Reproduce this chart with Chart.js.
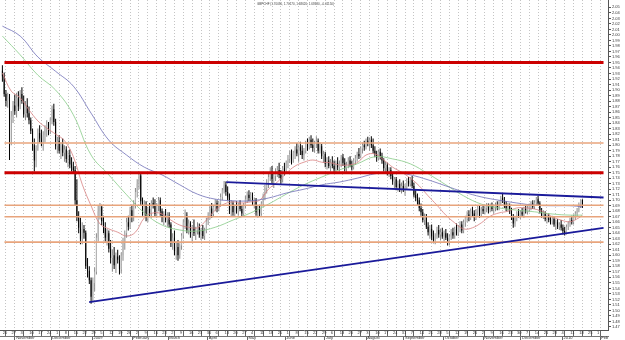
<!DOCTYPE html>
<html><head><meta charset="utf-8">
<script src="https://cdn.jsdelivr.net/npm/chart.js@4.4.1/dist/chart.umd.min.js"></script>
<style>
html,body{margin:0;padding:0;background:#fff;}
#wrap{position:relative;width:625px;height:340px;}
#title{position:absolute;left:257px;top:2px;font:3px 'Liberation Sans',Arial,sans-serif;color:#444;white-space:nowrap;}
</style></head><body>
<div id="wrap"><canvas id="c" width="625" height="340"></canvas><div id="title">GBPCHF (1.70030, 1.70170, 1.68620, 1.68630, -0.01150)</div></div>
<script>
// Weekly tick labels (Mondays, Oct 20 2008 .. Feb 1 2010)
const weekLabels = ['20','27','3','10','17','24','1','8','15','22','29','5','12','19','26','2','9','16','23','2','9','16','23','30','6','13','20','27','4','11','18','25','1','8','15','22','29','6','13','20','27','3','10','17','24','31','7','14','21','28','5','12','19','26','2','9','16','23','30','7','14','21','28','4','11','18','25','1'];
const monthNames = ['November','December','2009','February','March','April','May','June','July','August','September','October','November','December','2010','Feb'];
const monthStartDay = [10,30,53,75,95,117,139,160,182,205,226,248,270,291,314,335];
const yTicks = [1.47,1.48,1.49,1.50,1.51,1.52,1.53,1.54,1.55,1.56,1.57,1.58,1.59,1.60,1.61,1.62,1.63,1.64,1.65,1.66,1.67,1.68,1.69,1.70,1.71,1.72,1.73,1.74,1.75,1.76,1.77,1.78,1.79,1.80,1.81,1.82,1.83,1.84,1.85,1.86,1.87,1.88,1.89,1.90,1.91,1.92,1.93,1.94,1.95,1.96,1.97,1.98,1.99,2.00,2.01,2.02,2.03,2.04,2.05];

// Daily OHLC (trading days from Mon Oct 20 2008)
const open = [
1.935,1.925,1.893,1.880,1.888, 1.846,1.852,1.872,1.862,1.885, 1.870,1.893,1.880,1.856,1.872, 1.858,1.845,1.826,1.800,1.772,
1.795,1.822,1.812,1.804,1.818, 1.830,1.838,1.825,1.845,1.865, 1.842,1.798,1.808,1.790,1.800, 1.786,1.792,1.775,1.782,1.765,
1.760,1.755,1.700,1.668,1.650, 1.630,1.648,1.641,1.580,1.572, 1.555,1.525,1.550,1.570,1.632, 1.680,1.688,1.662,1.650,1.632,
1.640,1.612,1.595,1.600,1.582, 1.598,1.592,1.575,1.600,1.625, 1.640,1.660,1.652,1.682,1.670, 1.695,1.715,1.730,1.745,1.698,
1.680,1.692,1.668,1.684,1.676, 1.695,1.690,1.675,1.690,1.700, 1.680,1.668,1.675,1.664,1.672, 1.656,1.622,1.632,1.608,1.615,
1.600,1.618,1.636,1.660,1.672, 1.645,1.658,1.640,1.650,1.640, 1.645,1.652,1.638,1.646,1.635, 1.645,1.662,1.672,1.685,1.675,
1.688,1.695,1.684,1.694,1.706, 1.718,1.728,1.715,1.705,1.682, 1.694,1.678,1.686,1.680,1.690, 1.684,1.676,1.690,1.702,1.710,
1.704,1.710,1.695,1.700,1.678, 1.684,1.676,1.694,1.708,1.722, 1.730,1.742,1.752,1.738,1.744, 1.750,1.755,1.746,1.738,1.758,
1.752,1.768,1.775,1.784,1.772, 1.786,1.792,1.785,1.796,1.790, 1.782,1.790,1.802,1.796,1.810, 1.800,1.795,1.804,1.808,1.790,
1.798,1.780,1.784,1.766,1.772, 1.762,1.768,1.762,1.756,1.768, 1.760,1.766,1.778,1.768,1.758, 1.764,1.772,1.764,1.760,1.772,
1.776,1.784,1.780,1.794,1.800, 1.796,1.808,1.804,1.810,1.800, 1.790,1.784,1.776,1.788,1.780, 1.772,1.758,1.764,1.750,1.755,
1.744,1.734,1.738,1.724,1.730, 1.720,1.726,1.718,1.724,1.735, 1.730,1.738,1.726,1.710,1.704, 1.700,1.686,1.678,1.664,1.670,
1.652,1.642,1.648,1.634,1.628, 1.636,1.646,1.638,1.642,1.634, 1.640,1.632,1.625,1.634,1.642, 1.636,1.648,1.640,1.652,1.656,
1.645,1.660,1.668,1.674,1.668, 1.680,1.676,1.668,1.680,1.686, 1.674,1.684,1.680,1.686,1.690, 1.682,1.690,1.684,1.688,1.692,
1.686,1.696,1.704,1.700,1.692, 1.685,1.690,1.680,1.670,1.658, 1.668,1.676,1.672,1.678,1.674, 1.684,1.680,1.686,1.690,1.694,
1.688,1.696,1.702,1.694,1.680, 1.672,1.676,1.666,1.670,1.664, 1.662,1.666,1.656,1.660,1.652, 1.656,1.650,1.644,1.640,1.652,
1.658,1.664,1.660,1.670,1.676, 1.682,1.692,1.7003];
const high = [
1.945,1.932,1.900,1.895,1.893, 1.862,1.880,1.892,1.895,1.898, 1.900,1.905,1.890,1.880,1.885, 1.870,1.850,1.830,1.812,1.800,
1.830,1.836,1.828,1.825,1.836, 1.845,1.842,1.850,1.872,1.875, 1.848,1.815,1.818,1.805,1.812, 1.800,1.798,1.790,1.792,1.778,
1.770,1.762,1.738,1.680,1.668, 1.660,1.655,1.645,1.595,1.580, 1.560,1.560,1.578,1.640,1.690, 1.695,1.692,1.672,1.660,1.648,
1.645,1.628,1.610,1.615,1.605, 1.610,1.600,1.605,1.632,1.645, 1.668,1.672,1.688,1.692,1.700, 1.722,1.738,1.752,1.750,1.705,
1.700,1.698,1.688,1.695,1.700, 1.705,1.702,1.695,1.706,1.705, 1.685,1.680,1.684,1.678,1.678, 1.660,1.640,1.645,1.625,1.628,
1.622,1.640,1.665,1.683,1.678, 1.665,1.662,1.655,1.665,1.652, 1.660,1.658,1.650,1.655,1.650, 1.668,1.678,1.690,1.695,1.692,
1.702,1.700,1.698,1.712,1.722, 1.735,1.734,1.725,1.712,1.700, 1.698,1.692,1.698,1.695,1.700, 1.690,1.695,1.708,1.716,1.718,
1.715,1.714,1.705,1.704,1.690, 1.692,1.698,1.712,1.728,1.738, 1.748,1.760,1.762,1.748,1.758, 1.762,1.768,1.755,1.762,1.768,
1.772,1.782,1.790,1.792,1.790, 1.798,1.804,1.800,1.806,1.800, 1.795,1.808,1.812,1.815,1.818, 1.812,1.808,1.816,1.812,1.805,
1.802,1.790,1.788,1.778,1.780, 1.775,1.780,1.772,1.772,1.778, 1.772,1.782,1.784,1.776,1.770, 1.778,1.780,1.772,1.776,1.782,
1.788,1.795,1.798,1.805,1.808, 1.812,1.815,1.814,1.816,1.812, 1.798,1.790,1.792,1.794,1.786, 1.776,1.770,1.768,1.760,1.760,
1.750,1.742,1.742,1.736,1.738, 1.732,1.736,1.730,1.740,1.742, 1.742,1.744,1.732,1.718,1.712, 1.705,1.694,1.684,1.676,1.675,
1.660,1.655,1.656,1.645,1.640, 1.652,1.655,1.648,1.650,1.645, 1.648,1.640,1.638,1.648,1.650, 1.652,1.658,1.655,1.662,1.662,
1.665,1.672,1.680,1.682,1.685, 1.688,1.682,1.684,1.690,1.690, 1.688,1.692,1.690,1.695,1.694, 1.694,1.696,1.692,1.696,1.698,
1.700,1.708,1.712,1.706,1.698, 1.695,1.694,1.686,1.675,1.672, 1.680,1.684,1.682,1.686,1.688, 1.692,1.690,1.694,1.698,1.700,
1.700,1.706,1.708,1.698,1.686, 1.682,1.680,1.674,1.676,1.670, 1.672,1.670,1.664,1.666,1.660, 1.664,1.656,1.652,1.656,1.662,
1.668,1.672,1.674,1.680,1.686, 1.696,1.702,1.7017];
const low = [
1.915,1.888,1.870,1.868,1.773, 1.800,1.840,1.855,1.850,1.862, 1.865,1.875,1.850,1.845,1.850, 1.838,1.820,1.790,1.752,1.760,
1.790,1.805,1.798,1.790,1.805, 1.815,1.818,1.820,1.838,1.835, 1.792,1.785,1.785,1.775,1.780, 1.770,1.768,1.760,1.758,1.752,
1.748,1.690,1.662,1.640,1.620, 1.620,1.630,1.575,1.560,1.548, 1.512,1.515,1.535,1.565,1.625, 1.665,1.655,1.640,1.625,1.618,
1.605,1.585,1.570,1.575,1.568, 1.585,1.565,1.568,1.590,1.610, 1.632,1.645,1.648,1.660,1.662, 1.685,1.705,1.720,1.690,1.672,
1.672,1.662,1.660,1.670,1.668, 1.685,1.670,1.668,1.680,1.672, 1.660,1.655,1.660,1.652,1.650, 1.615,1.610,1.600,1.592,1.590,
1.594,1.610,1.630,1.648,1.640, 1.638,1.632,1.625,1.635,1.628, 1.638,1.632,1.628,1.630,1.628, 1.640,1.655,1.665,1.668,1.670,
1.680,1.678,1.680,1.688,1.700, 1.712,1.708,1.700,1.675,1.670, 1.672,1.670,1.676,1.672,1.680, 1.670,1.672,1.685,1.695,1.698,
1.698,1.690,1.685,1.672,1.668, 1.670,1.672,1.688,1.700,1.712, 1.722,1.735,1.730,1.722,1.735, 1.742,1.740,1.730,1.732,1.745,
1.748,1.758,1.768,1.765,1.768, 1.775,1.780,1.770,1.782,1.775, 1.772,1.785,1.790,1.792,1.795, 1.788,1.786,1.795,1.785,1.785,
1.775,1.768,1.760,1.756,1.758, 1.752,1.758,1.750,1.752,1.755, 1.752,1.760,1.762,1.752,1.750, 1.758,1.760,1.754,1.756,1.764,
1.770,1.775,1.776,1.785,1.790, 1.792,1.798,1.790,1.795,1.785, 1.778,1.770,1.772,1.774,1.766, 1.752,1.750,1.745,1.742,1.738,
1.728,1.722,1.718,1.716,1.715, 1.712,1.715,1.708,1.720,1.725, 1.725,1.722,1.705,1.698,1.692, 1.680,1.672,1.660,1.655,1.648,
1.636,1.630,1.628,1.622,1.620, 1.630,1.632,1.628,1.630,1.625, 1.628,1.618,1.618,1.628,1.630, 1.630,1.636,1.635,1.642,1.640,
1.640,1.652,1.660,1.662,1.664, 1.670,1.662,1.664,1.672,1.668, 1.670,1.675,1.674,1.678,1.676, 1.678,1.680,1.676,1.680,1.682,
1.682,1.690,1.695,1.686,1.680, 1.680,1.675,1.664,1.650,1.652, 1.662,1.668,1.666,1.670,1.668, 1.676,1.674,1.678,1.682,1.684,
1.684,1.690,1.690,1.676,1.668, 1.666,1.662,1.658,1.660,1.656, 1.656,1.652,1.646,1.648,1.646, 1.645,1.638,1.636,1.638,1.646,
1.652,1.656,1.656,1.664,1.670, 1.678,1.686,1.6862];
const close = [
1.925,1.893,1.880,1.888,1.846, 1.852,1.872,1.862,1.885,1.870, 1.893,1.880,1.856,1.872,1.858, 1.845,1.826,1.800,1.772,1.795,
1.822,1.812,1.804,1.818,1.830, 1.838,1.825,1.845,1.865,1.842, 1.798,1.808,1.790,1.800,1.786, 1.792,1.775,1.782,1.765,1.760,
1.755,1.700,1.668,1.650,1.630, 1.648,1.641,1.580,1.572,1.555, 1.525,1.550,1.570,1.632,1.680, 1.688,1.662,1.650,1.632,1.640,
1.612,1.595,1.600,1.582,1.598, 1.592,1.575,1.600,1.625,1.640, 1.660,1.652,1.682,1.670,1.695, 1.715,1.730,1.745,1.698,1.680,
1.692,1.668,1.684,1.676,1.695, 1.690,1.675,1.690,1.700,1.680, 1.668,1.675,1.664,1.672,1.656, 1.622,1.632,1.608,1.615,1.600,
1.618,1.636,1.660,1.672,1.645, 1.658,1.640,1.650,1.640,1.645, 1.652,1.638,1.646,1.635,1.645, 1.662,1.672,1.685,1.675,1.688,
1.695,1.684,1.694,1.706,1.718, 1.728,1.715,1.705,1.682,1.694, 1.678,1.686,1.680,1.690,1.684, 1.676,1.690,1.702,1.710,1.704,
1.710,1.695,1.700,1.678,1.684, 1.676,1.694,1.708,1.722,1.730, 1.742,1.752,1.738,1.744,1.750, 1.755,1.746,1.738,1.758,1.752,
1.768,1.775,1.784,1.772,1.786, 1.792,1.785,1.796,1.790,1.782, 1.790,1.802,1.796,1.810,1.800, 1.795,1.804,1.808,1.790,1.798,
1.780,1.784,1.766,1.772,1.762, 1.768,1.762,1.756,1.768,1.760, 1.766,1.778,1.768,1.758,1.764, 1.772,1.764,1.760,1.772,1.776,
1.784,1.780,1.794,1.800,1.796, 1.808,1.804,1.810,1.800,1.790, 1.784,1.776,1.788,1.780,1.772, 1.758,1.764,1.750,1.755,1.744,
1.734,1.738,1.724,1.730,1.720, 1.726,1.718,1.724,1.735,1.730, 1.738,1.726,1.710,1.704,1.700, 1.686,1.678,1.664,1.670,1.652,
1.642,1.648,1.634,1.628,1.636, 1.646,1.638,1.642,1.634,1.640, 1.632,1.625,1.634,1.642,1.636, 1.648,1.640,1.652,1.656,1.645,
1.660,1.668,1.674,1.668,1.680, 1.676,1.668,1.680,1.686,1.674, 1.684,1.680,1.686,1.690,1.682, 1.690,1.684,1.688,1.692,1.686,
1.696,1.704,1.700,1.692,1.685, 1.690,1.680,1.670,1.658,1.668, 1.676,1.672,1.678,1.674,1.684, 1.680,1.686,1.690,1.694,1.688,
1.696,1.702,1.694,1.680,1.672, 1.676,1.666,1.670,1.664,1.662, 1.666,1.656,1.660,1.652,1.656, 1.650,1.644,1.640,1.652,1.658,
1.664,1.660,1.670,1.676,1.682, 1.692,1.700,1.6863];

// Moving averages (day index -> value)
const slowIdx = [0,10,20,30,40,50,60,70,80,90,100,110,120,130,140,150,160,170,180,190,200,210,220,230,240,250,260,270,280,290,300,310,320,327];
const blueMA = [2.016,1.998,1.960,1.934,1.907,1.858,1.809,1.782,1.760,1.746,1.728,1.711,1.702,1.699,1.699,1.704,1.713,1.720,1.728,1.733,1.740,1.748,1.751,1.746,1.737,1.726,1.715,1.706,1.700,1.695,1.691,1.690,1.690,1.688];
const greenMA = [1.998,1.964,1.927,1.900,1.855,1.782,1.746,1.710,1.677,1.655,1.646,1.644,1.651,1.664,1.677,1.693,1.711,1.728,1.742,1.755,1.766,1.779,1.775,1.766,1.748,1.728,1.708,1.693,1.686,1.682,1.679,1.675,1.673,1.673];
const fastIdx = [0,5,10,15,20,25,30,35,40,45,50,55,60,65,70,75,80,85,90,95,100,105,110,115,120,125,130,135,140,145,150,155,160,165,170,175,180,185,190,195,200,205,210,215,220,225,230,235,240,245,250,255,260,265,270,275,280,285,290,295,300,305,310,315,320,325,327];
const redMA = [1.931,1.898,1.886,1.864,1.844,1.831,1.820,1.808,1.779,1.729,1.690,1.657,1.648,1.642,1.635,1.642,1.668,1.677,1.675,1.664,1.655,1.651,1.650,1.664,1.682,1.693,1.697,1.695,1.697,1.700,1.720,1.733,1.749,1.762,1.769,1.773,1.769,1.768,1.764,1.764,1.768,1.782,1.784,1.773,1.760,1.751,1.740,1.726,1.708,1.691,1.673,1.659,1.648,1.650,1.659,1.671,1.677,1.680,1.686,1.686,1.684,1.679,1.670,1.664,1.661,1.668,1.673];

// Horizontal levels and trendlines
const redLevels = [1.95, 1.75];
const orangeLevels = [1.804, 1.691, 1.670, 1.624];
const lowTrendDay = [49.4, 339.4], lowTrendVal = [1.515, 1.650];
const highTrendDay = [126.7, 339.4], highTrendVal = [1.733, 1.705];

const X_MIN = 1.67, X_MAX = 339.4, Y_MIN = 1.4645, Y_MAX = 2.0634;

const N = close.length;
const wick = [], body = [];
for (let i = 0; i < N; i++) {
  wick.push({x: i + 0.5, y: [low[i], high[i]]});
  body.push({x: i + 0.5, y: [open[i], close[i]]});
}
const bull = i => close[i] >= open[i];

const datasets = [];
redLevels.forEach(v => datasets.push({type:'line', data:[{x:X_MIN,y:v},{x:X_MAX,y:v}], borderColor:'#cc0000', borderWidth:3, pointRadius:0, order:1}));
orangeLevels.forEach(v => datasets.push({type:'line', data:[{x:X_MIN,y:v},{x:X_MAX,y:v}], borderColor:'#e8a47c', borderWidth:1.6, pointRadius:0, order:2}));
datasets.push({type:'line', data:lowTrendDay.map((d,j)=>({x:d,y:lowTrendVal[j]})), borderColor:'#1a1a9a', borderWidth:1.8, pointRadius:0, order:1});
datasets.push({type:'line', data:highTrendDay.map((d,j)=>({x:d,y:highTrendVal[j]})), borderColor:'#1a1a9a', borderWidth:1.8, pointRadius:0, order:1});
datasets.push({type:'line', data:slowIdx.map((d,j)=>({x:d+0.5,y:blueMA[j]})), borderColor:'#7070b8', borderWidth:0.8, pointRadius:0, tension:0.4, order:3});
datasets.push({type:'line', data:slowIdx.map((d,j)=>({x:d+0.5,y:greenMA[j]})), borderColor:'#88cc88', borderWidth:0.8, pointRadius:0, tension:0.4, order:3});
datasets.push({type:'line', data:fastIdx.map((d,j)=>({x:d+0.5,y:redMA[j]})), borderColor:'#d88080', borderWidth:0.8, pointRadius:0, tension:0.4, order:3});
datasets.push({type:'bar', data:wick, grouped:false, barThickness:1, maxBarThickness:1, inflateAmount:0, borderWidth:0,
  backgroundColor: c => bull(c.dataIndex) ? '#8a8a8a' : '#000', order:10});
datasets.push({type:'bar', data:body, grouped:false, barThickness:1, maxBarThickness:1.6, inflateAmount:0, borderWidth:0,
  backgroundColor: c => bull(c.dataIndex) ? '#b8b8b8' : '#000', order:9});

const noPad = s => { s.paddingTop = 0; s.paddingBottom = 0; s.paddingLeft = 0; s.paddingRight = 0; };

new Chart(document.getElementById('c'), {
  data: {datasets},
  options: {
    responsive:false, animation:false, devicePixelRatio:1,
    layout:{padding:0},
    plugins:{legend:{display:false}, tooltip:{enabled:false}, title:{display:false}},
    scales:{
      x:{type:'linear', position:'bottom', min:X_MIN, max:X_MAX, weight:0,
        afterBuildTicks: a => { a.ticks = weekLabels.map((_,k)=>({value:5*k})); },
        afterFit: s => { s.height = 6; noPad(s); },
        ticks:{autoSkip:false, maxRotation:0, minRotation:0, align:'start', labelOffset:1.2, padding:-5.6,
          font:{size:4, family:'Liberation Sans'}, color:'#333', callback:(v,i)=>weekLabels[i]},
        grid:{color:'#c4c4c4', lineWidth:1, drawTicks:true, tickLength:6, tickColor:'#666', tickWidth:1},
        border:{display:true, color:'#555', width:1, dash:[1,2]}
      },
      x2:{type:'linear', position:'bottom', min:X_MIN, max:X_MAX, weight:1,
        afterBuildTicks: a => { a.ticks = monthStartDay.map(v=>({value:v})); },
        afterFit: s => { s.height = 4; noPad(s); },
        ticks:{autoSkip:false, maxRotation:0, minRotation:0, align:'start', labelOffset:1.2, padding:-4.2,
          font:{size:4, family:'Liberation Sans'}, color:'#333', callback:(v,i)=>monthNames[i]},
        grid:{drawOnChartArea:false, drawTicks:true, tickLength:4, tickColor:'#666'},
        border:{display:true, color:'#777', width:1}
      },
      y:{type:'linear', position:'right', min:Y_MIN, max:Y_MAX,
        afterBuildTicks: a => { a.ticks = yTicks.map(v=>({value:v})); },
        afterFit: s => { s.width = 17; noPad(s); },
        ticks:{autoSkip:false, padding:1, font:{size:4, family:'Liberation Sans'}, color:'#333', callback:v=>v.toFixed(2)},
        grid:{drawOnChartArea:false, drawTicks:true, tickLength:3, tickColor:'#555'},
        border:{display:true, color:'#555', width:1}
      }
    }
  }
});
</script>
</body></html>
